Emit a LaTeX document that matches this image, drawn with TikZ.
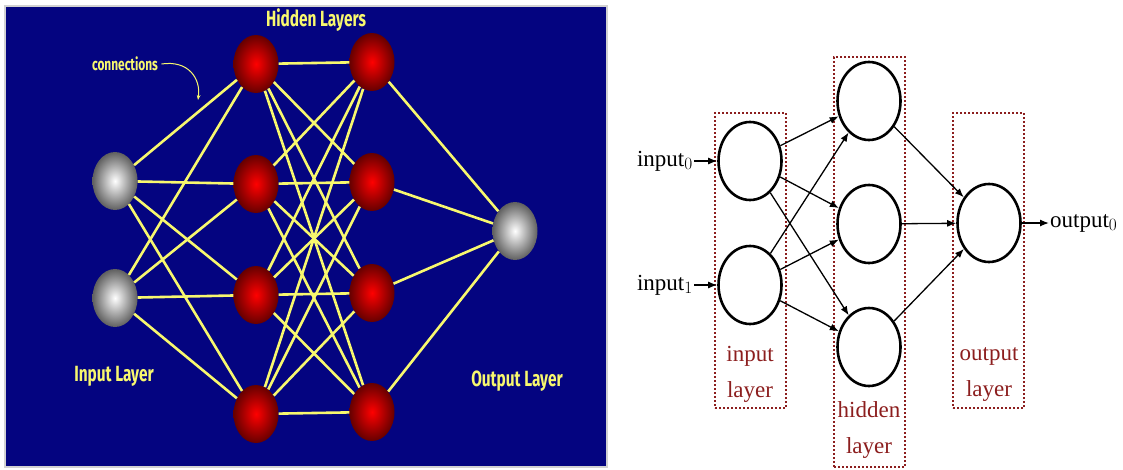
\documentclass[tikz,border=0pt]{standalone}
\usepackage{fontspec}
\usepackage{tikz}
\usetikzlibrary{shapes.geometric, positioning, arrows.meta}
\setmainfont{Liberation Serif}
\newfontfamily\comicfont[FakeStretch=0.7]{Fira Sans}
\definecolor{navyback}{RGB}{4,4,128}
\definecolor{wireyellow}{RGB}{248,248,110}
\definecolor{boxred}{RGB}{140,30,30}

\begin{document}
\begin{tikzpicture}[
    x=1pt, y=-1pt,
    ball/.style={ellipse, minimum width=45pt, minimum height=58pt, inner sep=0pt},
    redball/.style={ball, inner color=red, outer color=red!40!black},
    greyball/.style={ball, inner color=white, outer color=gray!75!black},
    wire/.style={wireyellow, line width=2.6pt},
    comic/.style={text=wireyellow, font=\comicfont\bfseries\fontsize{22}{26}\selectfont},
    neuron/.style={draw, ellipse, line width=2.6pt, minimum width=63pt, minimum height=78pt, inner sep=0pt},
    layerbox/.style={draw=boxred, dash pattern=on 2pt off 2pt, line width=1.3pt, minimum width=71pt},
    lbl/.style={text=boxred, align=center, font=\fontsize{23}{36}\selectfont},
    io/.style={inner sep=1pt, font=\fontsize{23}{26}\selectfont},
    conn/.style={line width=1.3pt, -{Latex[length=9pt,width=7pt]}}
]
    \useasboundingbox (0,0) rectangle (1123,469);

    % Left panel
    \fill[navyback, draw=gray!35, line width=1.5pt] (5,6) rectangle (607,467);

    % Nodes
    \node[greyball] (in1) at (115,181) {};
    \node[greyball] (in2) at (115,298) {};
    \foreach \y [count=\i] in {64,184,295,414}
        \node[redball] (ha\i) at (256,\y) {};
    \foreach \y [count=\i] in {62,182,293,412}
        \node[redball] (hb\i) at (372,\y) {};
    \node[greyball] (out) at (515,231) {};

    % Connections
    \foreach \i in {1,2}
        \foreach \j in {1,...,4}
            \draw[wire] (in\i) -- (ha\j);
    \foreach \i in {1,...,4}
        \foreach \j in {1,...,4}
            \draw[wire] (ha\i) -- (hb\j);
    \foreach \j in {1,...,4}
        \draw[wire] (hb\j) -- (out);

    % Labels
    \node[comic] (hidtitle) at (316,20) {Hidden Layers};
    \node[comic, font=\comicfont\bfseries\fontsize{17}{20}\selectfont] (conntext) at (125,64) {connections};
    \node[comic] (intitle) at (114,376) {Input Layer};
    \node[comic] (outtitle) at (517,381) {Output Layer};
    \coordinate (conntip) at (198,100);
    \draw[wireyellow, line width=1pt, -{Stealth[length=5pt]}] (conntext.east) .. controls (188,60) and (201,78) .. (conntip);

    % Right panel: boxes
    \node[layerbox, minimum height=295pt] (inbox) at (750.5,260.5) {};
    \node[layerbox, minimum height=410pt] (hidbox) at (869.5,262) {};
    \node[layerbox, minimum height=295pt] (outbox) at (988.5,260.5) {};
    \node[lbl] (inlbl) at (750,374) {input\\layer};
    \node[lbl] (hidlbl) at (869,430) {hidden\\layer};
    \node[lbl] (outlbl) at (989,374) {output\\layer};

    % Neurons
    \node[neuron] (i0) at (750,161) {};
    \node[neuron] (i1) at (750,285) {};
    \node[neuron] (h0) at (869,101) {};
    \node[neuron] (h1) at (869,224) {};
    \node[neuron] (h2) at (869,347) {};
    \node[neuron] (o0) at (989,223) {};
    \node[io, anchor=east] (x0) at (694,161) {input$_0$};
    \node[io, anchor=east] (x1) at (694,285) {input$_1$};
    \node[io, anchor=west] (y0) at (1049,223) {output$_0$};

    % Arrows
    \draw[conn] (x0) -- (i0);
    \draw[conn] (x1) -- (i1);
    \foreach \i in {0,1}
        \foreach \j in {0,1,2}
            \draw[conn] (i\i) -- (h\j);
    \foreach \j in {0,1,2}
        \draw[conn] (h\j) -- (o0);
    \draw[conn] (o0) -- (y0);
\end{tikzpicture}
\end{document}
